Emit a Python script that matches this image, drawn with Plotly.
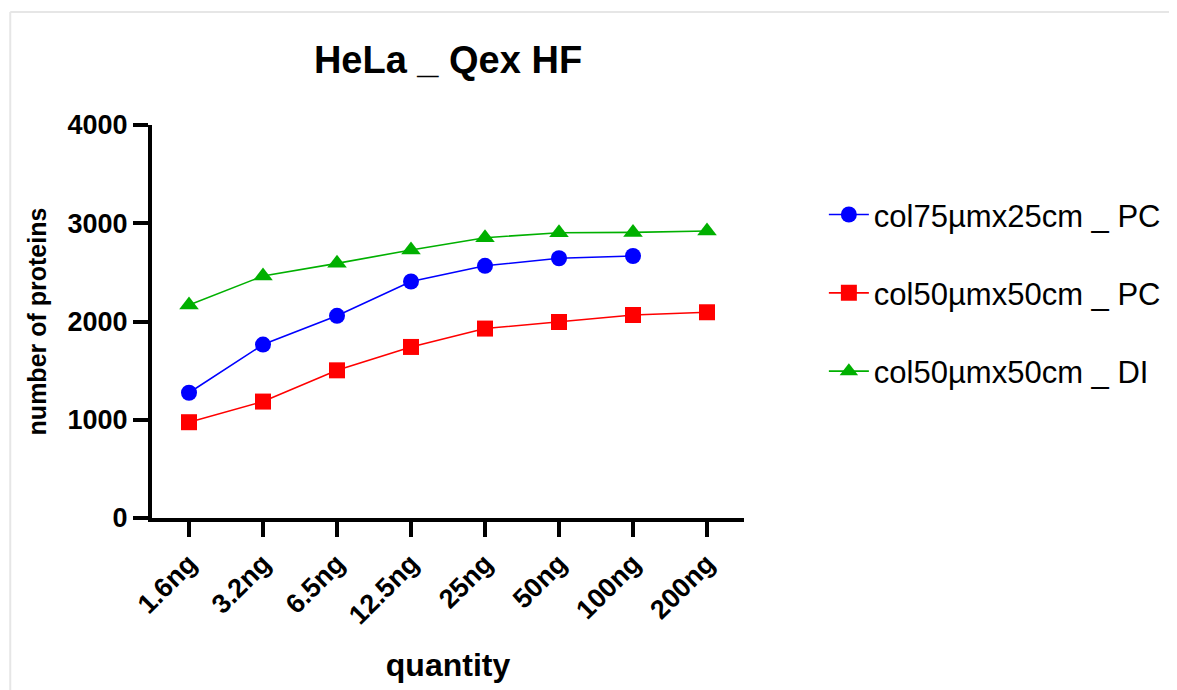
import plotly.graph_objects as go

categories = ["1.6ng", "3.2ng", "6.5ng", "12.5ng", "25ng", "50ng", "100ng", "200ng"]
col75_25_PC = [1275, 1765, 2058, 2407, 2567, 2644, 2667, None]
col50_50_PC = [975, 1185, 1503, 1741, 1928, 1995, 2066, 2094]
col50_50_DI = [2167, 2463, 2592, 2728, 2853, 2904, 2907, 2921]

series_names = ["col75µmx25cm _ PC", "col50µmx50cm _ PC", "col50µmx50cm _ DI"]

FONT = "Arial, Liberation Sans, Helvetica, sans-serif"

fig = go.Figure()
styles = [
    (col75_25_PC, "#0000FF", "circle", 16),
    (col50_50_PC, "#FF0000", "square", 16),
    (col50_50_DI, "#00B000", "triangle-up", 17),
]
for i, (vals, color, sym, size) in enumerate(styles):
    fig.add_trace(go.Scatter(
        x=categories, y=vals, name=series_names[i], mode="lines+markers",
        line=dict(color=color, width=1.6),
        marker=dict(color=color, symbol=sym, size=size),
        legendgroup=f"g{i}",
    ))

W, H = 1169, 682
bx0 = (10 - 152) / 593
by1 = (518 - 12) / 393
fig.update_layout(
    width=W, height=H,
    margin=dict(l=144, r=432, t=117, b=172),
    paper_bgcolor="white", plot_bgcolor="white",
    font=dict(family=FONT, color="black"),
    title=dict(text="HeLa _ Qex HF", font=dict(size=38, family=FONT, color="black", weight="bold"),
               x=0.5, xref="paper", xanchor="center",
               y=1 - 52 / H, yref="container", yanchor="middle"),
    showlegend=True,
    legend=dict(x=1.133, xanchor="left", y=0.84, yanchor="top",
                font=dict(size=31, family=FONT, color="black"),
                tracegroupgap=35, bgcolor="rgba(0,0,0,0)", itemwidth=40, borderwidth=0),
    xaxis=dict(
        type="category", range=[-0.5, 7.5],
        showline=True, linecolor="black", linewidth=4,
        ticks="outside", ticklen=15, tickwidth=4, tickcolor="black",
        tickangle=-45, tickfont=dict(size=27, family=FONT, color="black", weight="bold"),
        showgrid=False, zeroline=False,
        title=dict(text="quantity", font=dict(size=32, family=FONT, color="black", weight="bold"), standoff=25),
        automargin=False,
    ),
    yaxis=dict(
        range=[0, 4000], tickvals=[0, 1000, 2000, 3000, 4000],
        showline=True, linecolor="black", linewidth=4,
        ticks="outside", ticklen=15, tickwidth=4, tickcolor="black",
        tickfont=dict(size=27, family=FONT, color="black", weight="bold"),
        showgrid=False, zeroline=False,
        title=dict(text="number of proteins", font=dict(size=25, family=FONT, color="black", weight="bold"), standoff=15),
        automargin=False,
    ),
    shapes=[
        dict(type="line", xref="paper", yref="paper", x0=bx0, x1=2.2, y0=by1, y1=by1,
             line=dict(color="#E6E6E6", width=2), layer="below"),
        dict(type="line", xref="paper", yref="paper", x0=bx0, x1=bx0, y0=-0.8, y1=by1,
             line=dict(color="#E6E6E6", width=2), layer="below"),
    ],
)

fig.write_html("out.html")
